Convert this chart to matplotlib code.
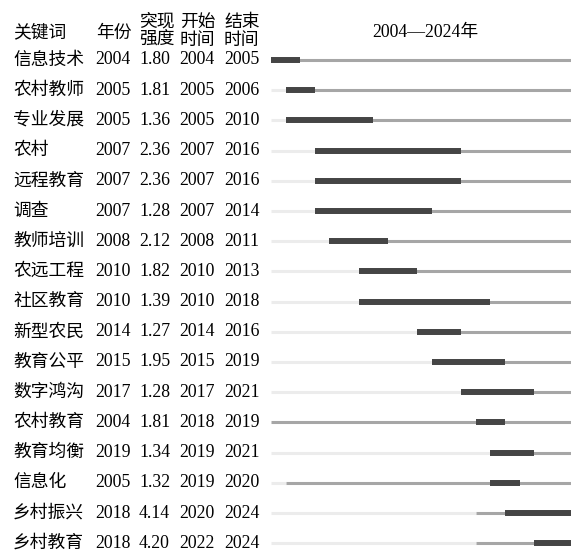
import matplotlib
matplotlib.use("Agg")
import matplotlib.pyplot as plt

keywords = ["信息技术", "农村教师", "专业发展", "农村", "远程教育", "调查", "教师培训", "农远工程",
            "社区教育", "新型农民", "教育公平", "数字鸿沟", "农村教育", "教育均衡", "信息化", "乡村振兴", "乡村教育"]
years = [2004, 2005, 2005, 2007, 2007, 2007, 2008, 2010, 2010, 2014, 2015, 2017, 2004, 2019, 2005, 2018, 2018]
strength = [1.80, 1.81, 1.36, 2.36, 2.36, 1.28, 2.12, 1.82, 1.39, 1.27, 1.95, 1.28, 1.81, 1.34, 1.32, 4.14, 4.20]
begin = [2004, 2005, 2005, 2007, 2007, 2007, 2008, 2010, 2010, 2014, 2015, 2017, 2018, 2019, 2019, 2020, 2022]
end = [2005, 2006, 2010, 2016, 2016, 2014, 2011, 2013, 2018, 2016, 2019, 2021, 2019, 2021, 2020, 2024, 2024]
first_year, last_year = 2004, 2024

W, H = 571, 554
row0, row_step = 60, 30.2
fams = ["Liberation Serif", "Noto Sans CJK SC"]
fs = 12.8

fig = plt.figure(figsize=(W / 100, H / 100), dpi=100)
ylo = (H - row0) / row_step
yhi = -row0 / row_step

# text layer in pixel x, row-index y
tx = fig.add_axes([0, 0, 1, 1])
tx.set_xlim(0, W)
tx.set_ylim(ylo, yhi)
tx.axis("off")

# bar layer in years
px_per_year = 14.62
x0 = 271
bx = fig.add_axes([x0 / W, 0, (last_year - first_year + 1) * px_per_year / W, 1])
bx.set_xlim(first_year, last_year + 1)
bx.set_ylim(ylo, yhi)
bx.axis("off")

def hdr(y_px):
    return (y_px - row0) / row_step

tx.text(13, hdr(33), "关键词", family=fams, fontsize=fs, va="center")
tx.text(96, hdr(33), "年份", family=fams, fontsize=fs, va="center")
for xx, top, bot in [(139, "突现", "强度"), (180, "开始", "时间"), (224, "结束", "时间")]:
    tx.text(xx, hdr(22), top, family=fams, fontsize=fs, va="center")
    tx.text(xx, hdr(40), bot, family=fams, fontsize=fs, va="center")
tx.text(425, hdr(32), "2004—2024年", family=fams, fontsize=fs, va="center", ha="center")

for i, kw in enumerate(keywords):
    tx.text(13, i, kw, family=fams, fontsize=fs, va="center")
    tx.text(95, i, str(years[i]), family=fams, fontsize=fs, va="center")
    tx.text(139, i, f"{strength[i]:.2f}", family=fams, fontsize=fs, va="center")
    tx.text(179, i, str(begin[i]), family=fams, fontsize=fs, va="center")
    tx.text(224, i, str(end[i]), family=fams, fontsize=fs, va="center")

    if years[i] > first_year:
        bx.plot([first_year, years[i]], [i, i], color="#ececec", lw=2.2, solid_capstyle="butt")
    bx.plot([years[i], last_year + 1], [i, i], color="#a6a6a6", lw=2.2, solid_capstyle="butt")
    bx.plot([begin[i], end[i] + 1], [i, i], color="#454545", lw=4.3, solid_capstyle="butt")

fig.savefig("out.png", dpi=100, facecolor="white")
